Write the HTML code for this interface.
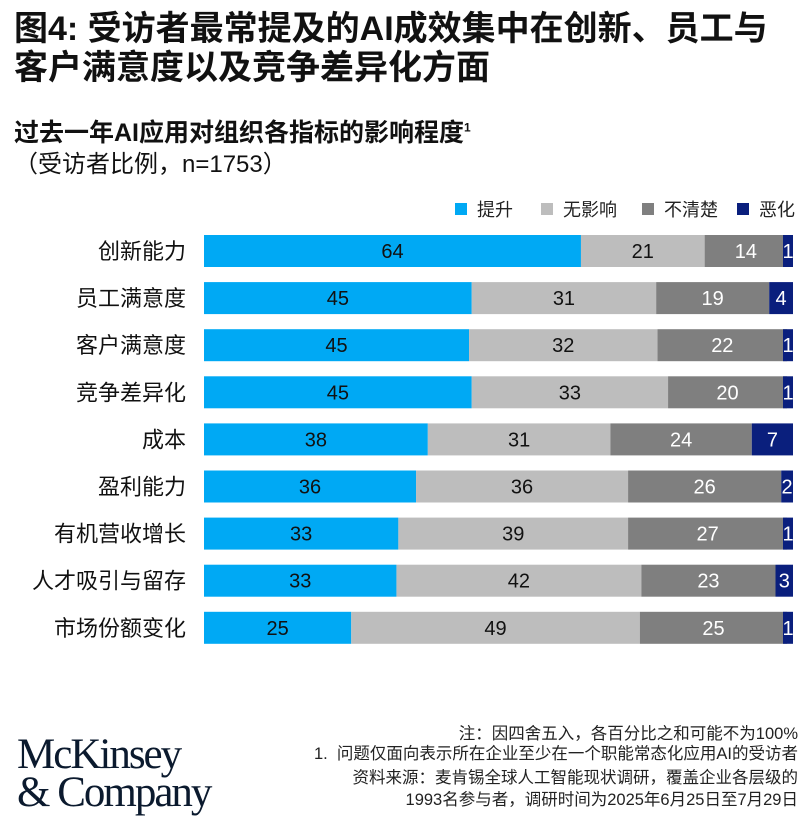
<!DOCTYPE html>
<html><head><meta charset="utf-8"><style>
body{margin:0;width:810px;height:819px;background:#fff;font-family:"Liberation Sans","Noto Sans CJK SC",sans-serif;color:#111;position:relative;overflow:hidden}
.a{position:absolute;white-space:nowrap}
.f{position:absolute;right:12px;font-size:16.5px;color:#222;white-space:nowrap;text-align:right}
</style></head><body>
<div class="a" style="left:14px;top:10px;font-size:34px;font-weight:bold;line-height:39px">图4: 受访者最常提及的AI成效集中在创新、员工与<br>客户满意度以及竞争差异化方面</div>
<div class="a" style="left:14px;top:113px;font-size:25px;font-weight:bold">过去一年AI应用对组织各指标的影响程度<sup style="font-size:12px">1</sup></div>
<div class="a" style="left:14px;top:144px;font-size:24px">（受访者比例，n=1753）</div>
<svg id="c" width="810" height="819" style="position:absolute;left:0;top:0"></svg>
<div class="a" style="left:17px;top:736px;font-family:'Liberation Serif',serif;font-size:43px;line-height:38px;color:#0b1a2e;letter-spacing:-2px">McKinsey<br>&amp; Company</div>
<div class="f" style="top:720px">注：因四舍五入，各百分比之和可能不为100%</div>
<div class="f" style="top:740px">1.&nbsp;&nbsp;问题仅面向表示所在企业至少在一个职能常态化应用AI的受访者</div>
<div class="f" style="top:767px;line-height:22px">资料来源：麦肯锡全球人工智能现状调研，覆盖企业各层级的<br>1993名参与者，调研时间为2025年6月25日至7月29日</div>
<script>
const categories=["创新能力","员工满意度","客户满意度","竞争差异化","成本","盈利能力","有机营收增长","人才吸引与留存","市场份额变化"];
const improve=[64,45,45,45,38,36,33,33,25];
const noImpact=[21,31,32,33,31,36,39,42,49];
const unclear=[14,19,22,20,24,26,27,23,25];
const worse=[1,4,1,1,7,2,1,3,1];
const seriesNames=["提升","无影响","不清楚","恶化"];
const colors=["#00a9f4","#bdbdbd","#7f7f7f","#0a1f7d"];
const txt=["#111","#111","#fff","#fff"];
const svg=document.getElementById('c');const NS="http://www.w3.org/2000/svg";
const x0=204,fullW=589,y0=251,step=47.1,bh=32;
const yc=i=>y0+i*step;
function mk(t,a){const e=document.createElementNS(NS,t);for(const k in a)e.setAttribute(k,a[k]);svg.appendChild(e);return e;}
const series=[improve,noImpact,unclear,worse];
categories.forEach((c,i)=>{
 const l=mk('text',{x:186,y:yc(i)+8,'text-anchor':'end','font-size':22,fill:'#111'});l.textContent=c;
 
 
 const total=series.reduce((s,a)=>s+a[i],0);
 const xs=v=>v/total*fullW;
 let cum=0;
 series.forEach((s,k)=>{
  const v=s[i];let w=xs(v);let x=x0+xs(cum);
  if(k===3&&w<10){x-= (10-w);w=10;}
  const r=mk('rect',{x:x,y:yc(i)-bh/2,width:w,height:bh,fill:colors[k]});
  
  
  const t=mk('text',{x:x+w/2,y:yc(i)+7,'text-anchor':'middle','font-size':20,fill:txt[k]});
  t.textContent=v;
  
  
  cum+=v;
 });
});
const lx=[455,541,642,737];
seriesNames.forEach((n,k)=>{
 const r=mk('rect',{x:lx[k],y:203,width:12,height:12,fill:colors[k]});
 
 
 const t=mk('text',{x:lx[k]+22,y:216,'font-size':18,fill:'#222'});t.textContent=n;
 
 
});
</script>
</body></html>
